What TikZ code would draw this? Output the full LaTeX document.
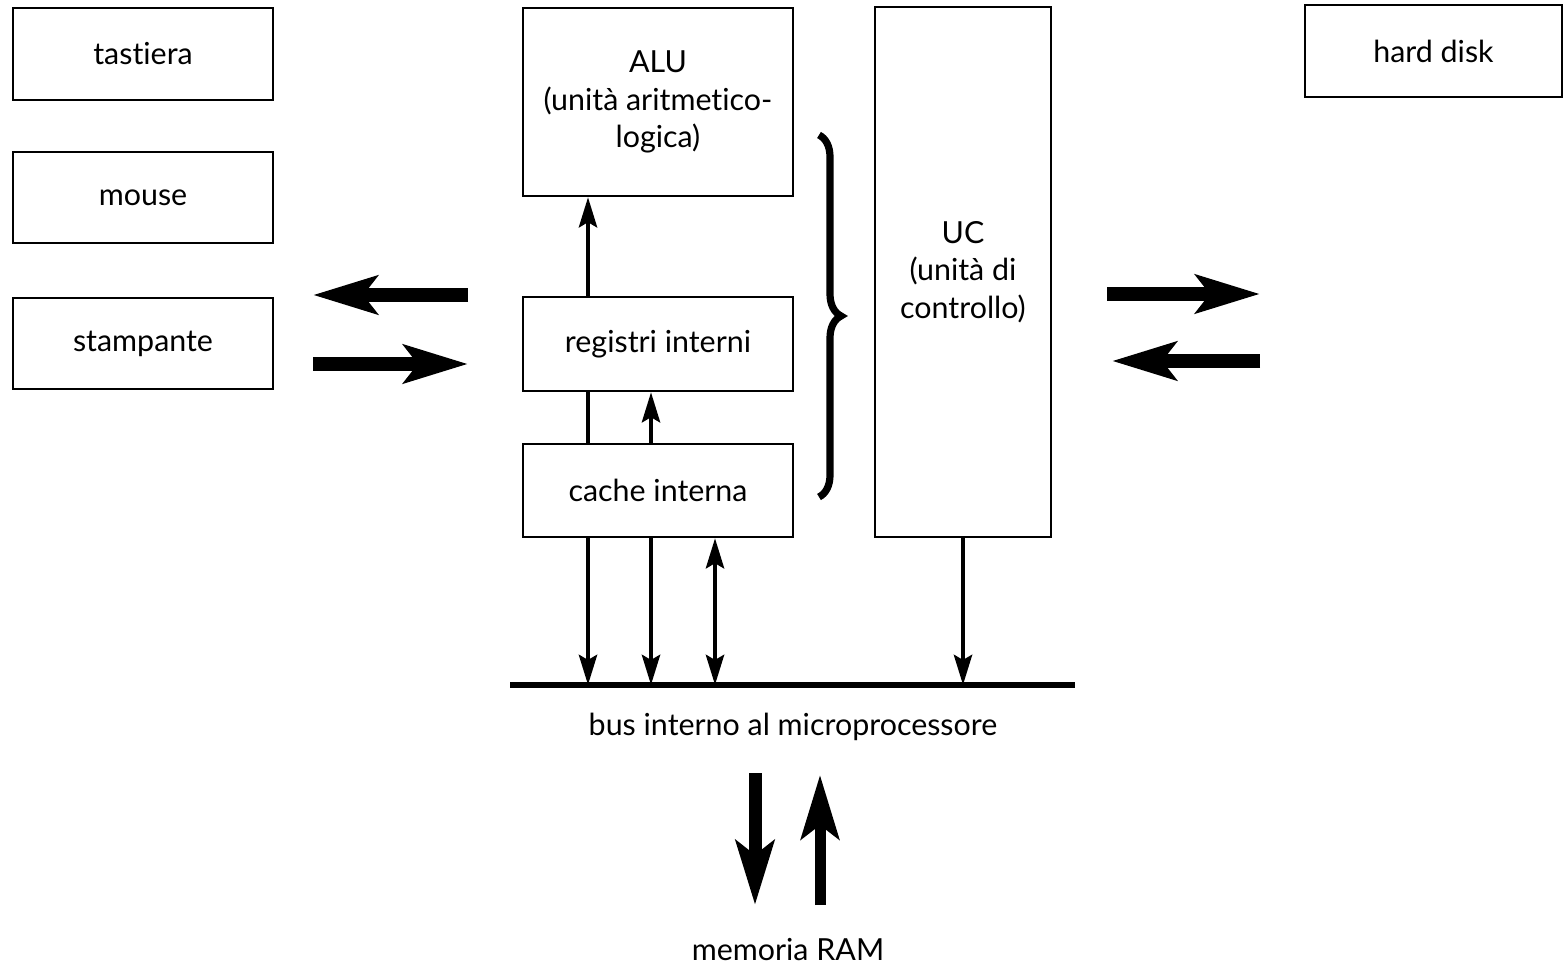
\documentclass[tikz,border=0pt]{standalone}
\usepackage{fontspec}
\setmainfont{Lato}[Ligatures=NoCommon]
\usetikzlibrary{arrows.meta,decorations.pathreplacing}

\tikzset{
  unit/.style={draw,line width=1.2pt,inner sep=0pt,align=center,
    font=\fontsize{15.2}{18.8}\selectfont},
  thinarrow/.style={line width=2.4pt,-{Stealth[length=15pt,width=9pt,inset=2.5pt]}},
  fatarrow/.style={line width=7pt,-{Stealth[length=32pt,width=19pt,inset=7pt]}},
  caption/.style={inner sep=0pt,font=\fontsize{15.2}{18.8}\selectfont}
}

\begin{document}
\begin{tikzpicture}[x=0.5pt,y=-0.5pt]
    \useasboundingbox (0,0) rectangle (1563,967);
    % peripherals
    \node[unit,minimum width=130pt,minimum height=46pt] (tast) at (143,54) {tastiera};
    \node[unit,minimum width=130pt,minimum height=45.5pt] (mouse) at (143,197.5) {mouse};
    \node[unit,minimum width=130pt,minimum height=45.5pt] (stamp) at (143,343.5) {stampante};
    \node[unit,minimum width=128.5pt,minimum height=46pt] (hd) at (1433.5,51) {hard disk};
    % CPU
    \node[unit,minimum width=135pt,minimum height=94pt] (alu) at (658,102)
      {ALU\\(unità aritmetico-\\logica)};
    \node[unit,minimum width=135pt,minimum height=47pt] (reg) at (658,344) {registri interni};
    \node[unit,minimum width=135pt,minimum height=46.5pt] (cache) at (658,490.5) {cache interna};
    \node[unit,minimum width=88pt,minimum height=265pt] (uc) at (963,272)
      {UC\\(unità di\\controllo)};
    \draw[line width=3.6pt,decorate,
      decoration={brace,amplitude=11pt}] (819,135) -- (819,497);
    % bus
    \coordinate (busL) at (510,685);
    \coordinate (busR) at (1075,685);
    \draw[line width=3pt] (busL) -- (busR);
    \node[caption] (bus) at (793,727) {bus interno al microprocessore};
    \node[caption] (ram) at (788,950) {memoria RAM};
    % inner connectors
    \draw[thinarrow] ([xshift=-35pt]reg.north) -- ([xshift=-35pt]alu.south);
    \draw[line width=2.4pt] ([xshift=-35pt]cache.north) -- ([xshift=-35pt]reg.south);
    \draw[thinarrow] ([xshift=-3.5pt]cache.north) -- ([xshift=-3.5pt]reg.south);
    \draw[thinarrow] ([xshift=-35pt]cache.south) -- ([xshift=-35pt]cache.south |- busL);
    \draw[thinarrow] ([xshift=-3.5pt]cache.south) -- ([xshift=-3.5pt]cache.south |- busL);
    \draw[line width=2.4pt,{Stealth[length=15pt,width=9pt,inset=2.5pt]}-{Stealth[length=15pt,width=9pt,inset=2.5pt]}]
      ([xshift=28.5pt]cache.south) -- ([xshift=28.5pt]cache.south |- busL);
    \draw[thinarrow] (uc.south) -- (uc.south |- busL);
    % input / output
    \coordinate (inA) at (468,295);
    \coordinate (inB) at (313,295);
    \coordinate (inC) at (313,364);
    \coordinate (inD) at (468,364);
    \draw[fatarrow] (inA) -- (inB);
    \draw[fatarrow] (inC) -- (inD);
    \coordinate (outA) at (1107,294);
    \coordinate (outB) at (1260,294);
    \coordinate (outC) at (1260,361);
    \coordinate (outD) at (1112,361);
    \draw[fatarrow] (outA) -- (outB);
    \draw[fatarrow] (outC) -- (outD);
    % memory
    \coordinate (ramA) at (755,773);
    \coordinate (ramB) at (755,905);
    \coordinate (ramC) at (820,905);
    \coordinate (ramD) at (820,775);
    \draw[fatarrow,line width=6.5pt] (ramA) -- (ramB);
    \draw[fatarrow,line width=5.5pt] (ramC) -- (ramD);
\end{tikzpicture}
\end{document}
